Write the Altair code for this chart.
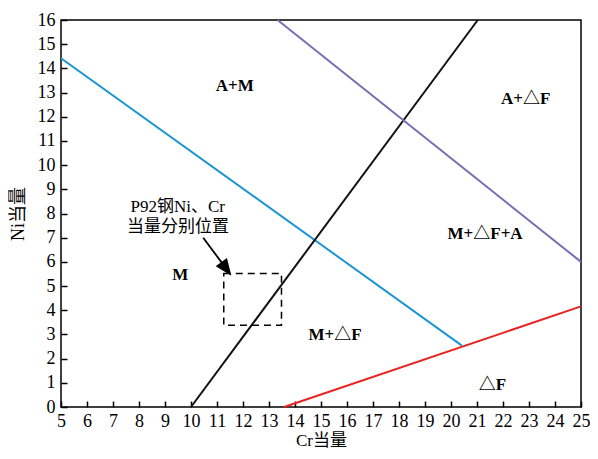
import altair as alt
import pandas as pd

# ---- data ----
series_names = ["blue", "black", "purple", "red"]
series_colors = ["#1a96d4", "#111111", "#7a6db4", "#e8231f"]

blue_x = [5.0, 20.42]
blue_y = [14.42, 2.54]
black_x = [10.0, 21.03]
black_y = [0.0, 16.0]
purple_x = [13.33, 25.0]
purple_y = [16.0, 6.0]
red_x = [13.58, 25.0]
red_y = [0.0, 4.16]

# dashed box: P92 Ni / Cr equivalent window
box_x = [11.26]
box_x2 = [13.48]
box_y = [3.38]
box_y2 = [5.52]

# arrow (start, head centre)
arrow_x = [10.47, 11.36]
arrow_y = [7.0, 5.71]
arrow_head_x = [11.36]
arrow_head_y = [5.71]

label_text = ["A+M", "A+△F", "M+△F+A", "M", "M+△F", "△F"]
label_x = [11.68, 22.87, 21.31, 9.59, 15.54, 21.59]
label_y = [13.27, 12.72, 7.16, 5.45, 2.97, 0.89]

note_text = ["P92钢Ni、Cr", "当量分别位置"]
note_x = [9.49, 9.5]
note_y = [8.27, 7.45]

x_ticks = list(range(5, 26))
y_ticks = list(range(0, 17))

FONT = "Liberation Serif, Times New Roman, Noto Sans CJK SC"

# ---- tables ----
rows = []
for name, xs, ys in zip(series_names,
                        [blue_x, black_x, purple_x, red_x],
                        [blue_y, black_y, purple_y, red_y]):
    for i, (xv, yv) in enumerate(zip(xs, ys)):
        rows.append({"series": name, "x": xv, "y": yv, "o": i})
lines_df = pd.DataFrame(rows)
box_df = pd.DataFrame({"x": box_x, "x2": box_x2, "y": box_y, "y2": box_y2})
arrow_df = pd.DataFrame({"x": arrow_x, "y": arrow_y, "o": [0, 1]})
head_df = pd.DataFrame({"x": arrow_head_x, "y": arrow_head_y})
label_df = pd.DataFrame({"t": label_text, "x": label_x, "y": label_y})
note_df = pd.DataFrame({"t": note_text, "x": note_x, "y": note_y})

xs = alt.Scale(domain=[5, 25], nice=False, zero=False)
ys = alt.Scale(domain=[0, 16], nice=False, zero=False)

main_x_axis = alt.Axis(values=x_ticks, orient="bottom", domain=False, ticks=False,
                       tickSize=0, grid=False, labelFont=FONT, labelFontSize=18,
                       labelColor="black", labelPadding=5, labelFlush=False,
                       labelOverlap=False, title="Cr当量", titleFont=FONT,
                       titleFontSize=17, titleFontWeight="normal", titleColor="black",
                       titlePadding=2)
main_y_axis = alt.Axis(values=y_ticks, orient="left", domain=False, ticks=False,
                       tickSize=0, grid=False, labelFont=FONT, labelFontSize=18,
                       labelColor="black", labelPadding=6, labelFlush=False,
                       labelOverlap=False, title="Ni当量", titleFont=FONT,
                       titleFontSize=18, titleFontWeight="normal", titleColor="black",
                       titlePadding=10)
tick_x_axis = alt.Axis(values=x_ticks, orient="bottom", offset=-6, domain=False,
                       labels=False, ticks=True, tickSize=6, tickColor="black",
                       tickWidth=1.5, grid=False, title=None)
tick_y_axis = alt.Axis(values=y_ticks, orient="left", offset=-6, domain=False,
                       labels=False, ticks=True, tickSize=6, tickColor="black",
                       tickWidth=1.5, grid=False, title=None)

lines = alt.Chart(lines_df).mark_line(strokeWidth=2).encode(
    x=alt.X("x:Q", scale=xs, axis=main_x_axis),
    y=alt.Y("y:Q", scale=ys, axis=main_y_axis),
    color=alt.Color("series:N", scale=alt.Scale(domain=series_names, range=series_colors),
                    legend=None),
    order="o:Q",
)

box = alt.Chart(box_df).mark_rect(fillOpacity=0, stroke="black", strokeWidth=1.5,
                                  strokeDash=[7, 5]).encode(
    x=alt.X("x:Q", scale=xs, axis=tick_x_axis),
    x2="x2:Q",
    y=alt.Y("y:Q", scale=ys, axis=tick_y_axis),
    y2="y2:Q",
)

arrow = alt.Chart(arrow_df).mark_line(color="black", strokeWidth=1.8).encode(
    x=alt.X("x:Q", scale=xs, axis=None),
    y=alt.Y("y:Q", scale=ys, axis=None),
    order="o:Q",
)

head = alt.Chart(head_df).mark_point(shape="M0,-1L0.82,1L-0.82,1Z", filled=True,
                                     size=289, angle=143.5, color="black",
                                     opacity=1).encode(
    x=alt.X("x:Q", scale=xs, axis=None),
    y=alt.Y("y:Q", scale=ys, axis=None),
)

labels = alt.Chart(label_df).mark_text(font=FONT, fontSize=17, fontWeight="bold",
                                       color="black").encode(
    x=alt.X("x:Q", scale=xs, axis=None),
    y=alt.Y("y:Q", scale=ys, axis=None),
    text="t:N",
)

notes = alt.Chart(note_df).mark_text(font=FONT, fontSize=17, color="black").encode(
    x=alt.X("x:Q", scale=xs, axis=None),
    y=alt.Y("y:Q", scale=ys, axis=None),
    text="t:N",
)

chart = alt.layer(lines, box, arrow, head, labels, notes).resolve_axis(
    x="independent", y="independent"
).properties(
    width=520, height=387,
    autosize=alt.AutoSizeParams(type="none"),
    padding={"left": 53, "top": 12, "right": 9, "bottom": 44},
    background="white",
).configure_view(stroke="black", strokeWidth=1.5)

chart.save("out.html", embed_options={"renderer": "svg", "actions": False})
